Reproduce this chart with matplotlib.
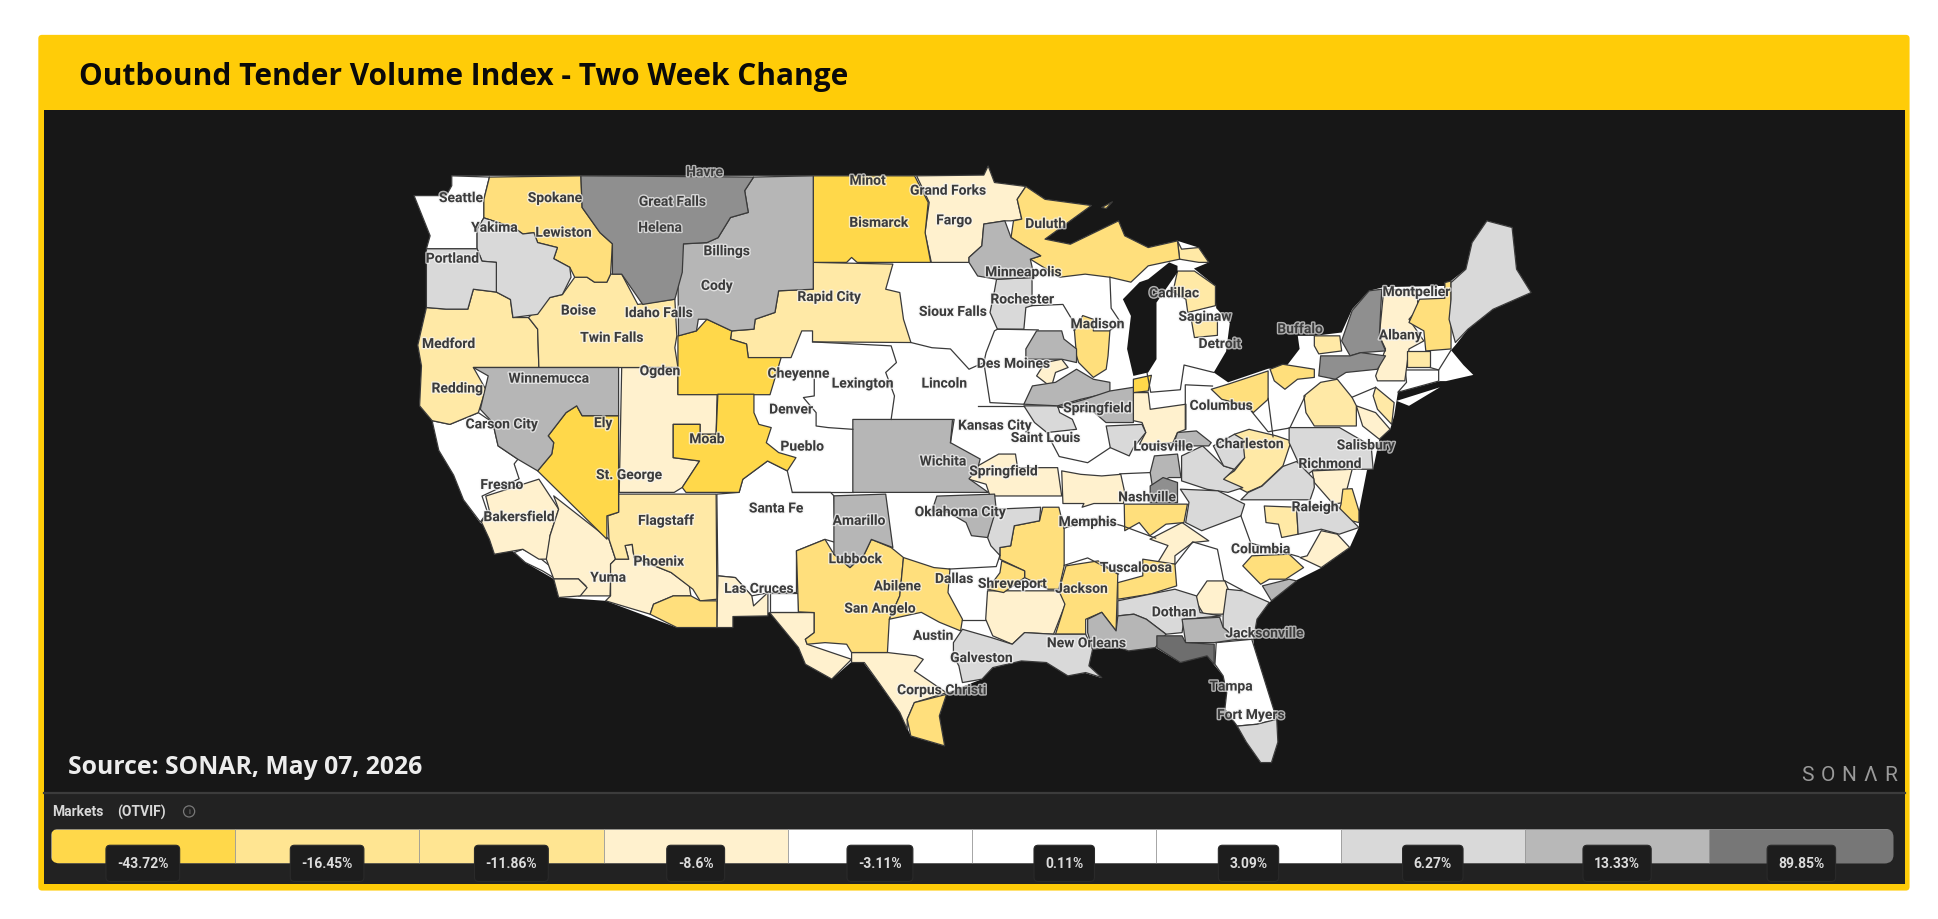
import numpy as np
import matplotlib
matplotlib.use('Agg')
import matplotlib.pyplot as plt
import matplotlib.patheffects as pe
from matplotlib.patches import Polygon, Rectangle, FancyBboxPatch, Circle

# market outlines (map units, 1568 wide)
us_outline = [(335,159),(361,159),(365.5,151),(365.5,143),(658,143),(740,143),(796,142.4),(799.5,135),(804.6,148.4),(830,151.6),(845.5,162),(883,167),(845.5,194.2),(866,198.3),(905,179.4),(910,191.5),(929,201),(952.7,195.6),(969.8,201),(978,213),(966,218),(983.4,232),(984,250),(995,262),(992,285),(982,302),(993.6,310),(1026,299),(1040,298),(1051.5,283),(1050,272.4),(1063.4,272.4),(1085.5,269.7),(1094,250.9),(1107.7,236),(1119.6,233),(1170,232),(1174,228),(1186,218.5),(1191,197),(1203,179.4),(1223.4,184.8),(1227,218.5),(1238.8,237.4),(1208,250.9),(1187.7,267),(1177.5,280),(1174,284),(1184,296),(1192,304),(1170,309),(1165,309),(1131,318),(1128,337),(1124.7,348),(1116,356),(1111,380),(1106,381),(1099.5,414),(1099.5,427),(1092,443.6),(1069,460),(1049,470),(1027,488),(1017,501.6),(1014,518),(1017,542),(1025.7,561),(1033,585),(1033.9,601),(1028.7,617.5),(1020,617.5),(1008.4,601),(1001,588),(991,574),(992.5,561),(989.6,547.4),(982,538),(976.6,531),(955,536.6),(934.7,524.5),(913,527),(905,524.5),(884,526),(881,539),(891,549),(878,545),(864,547),(846.6,536.6),(826,535),(803,541),(794.6,550),(766,561),(760,580),(764,604),(737,596),(728,577),(711,553),(699,537),(689,536),(673,550),(652,538),(646,524.5),(622.7,496),(593,499.4),(593,508.3),(547.6,508.3),(490,486.7),(452,484),(448,469),(425,455.7),(388,423),(375,405),(367,385),(355,365),(349.6,341),(339.5,329),(341,297),(338,280),(345,249.5),(345,202),(348,191.5)]
long_island = [(1130,325),(1165,314),(1140,329)]
lake_michigan = [(929,226.6),(946,213),(952.7,215.8),(952.7,221),(935.7,245.5),(935.7,291.3),(929,302),(917,304.8),(911.9,283),(915,256.3),(908.5,242.8),(922,229)]

# -43.72% band
bismarck = [(658,143),(740,143),(751,164.5),(748.5,189),(753,213),(693.5,213),(689,209),(685,213),(658,213)]
cheyenne_w = [(548.5,272.4),(563.5,268.4),(572,259),(592,268.4),(591,275),(604,279),(605.4,290),(632,290),(623,320),(548.5,320)]
moab = [(580.8,319.6),(610,319.6),(610,334.5),(614,344),(624,346.6),(620,358.8),(630,366.8),(644,370.9),(637,381.6),(621,373.6),(601,388.4),(598,399),(555,399),(552,395),(566,373.6),(544.7,370.9),(544.7,344),(566.4,344),(566.4,352),(579.4,352)]
st_george = [(435,381.6),(446.4,368),(448,358.8),(443.5,353.3),(458,334.5),(466.6,329),(471,337),(500.5,337),(500.5,415),(491,418),(491,436.8)]
gary = [(917,307.5),(931.6,304.3),(929,317),(917,318.3)]

# -16.45% band
spokane = [(396,144),(470,143),(471,168.6),(485.5,189),(495.5,198),(494,222.5),(491,229),(481,229),(475,225),(465,225),(461,217),(448,210),(451,201),(435,197),(432,189),(423,190),(416,185),(391.5,177),(391.5,162)]
tucson = [(528.8,489.4),(544.7,482.7),(559,482.7),(566.4,486.7),(580,486.7),(580,508.3),(547.6,508.3),(526,497.5)]
lubbock = [(644.4,446.3),(667.5,437),(674.7,449),(687.7,459.8),(699.3,449),(705,437),(721,443.6),(731,451.7),(728,482.7),(719.5,501.6),(718,528.5),(689,528.5),(685,521.8),(667.5,520.5),(653,521.8),(651.6,517.8),(658.8,512.4),(658.8,496.2),(646,495.6)]
abilene = [(731,451.7),(755.6,459.8),(768.6,461),(767,480),(778.7,501.6),(777.2,511),(760,504),(745.4,496),(719.5,501.6),(728,482.7)]
brownsville = [(739.8,569),(765.8,562.3),(760,579.8),(764.3,604),(736.9,596),(734,582.5)]
arkansas = [(843.7,411),(856.7,411),(861,428.8),(861,458.4),(856.7,477.3),(848,477.3),(829,467.9),(829,462.5),(809,453),(809,443.6),(817.7,442.2),(820.6,426),(841,422)]
shreveport = [(810.5,454.4),(829,462.5),(829,467.9),(812,480),(799,477.3),(809,464)]
jackson = [(862.5,458.4),(888.5,454.4),(904.4,465.2),(903,511),(891.4,496),(878.4,501.6),(878.4,513.7),(854,513.7),(861.6,489.4),(856.7,478.6)]
nashville_s = [(909.6,408.5),(960.7,408.5),(957.9,423.4),(943.4,424.7),(930.4,434),(921.7,423.4),(910,430)]
tuscaloosa = [(904.4,472),(924.6,466.5),(924.6,453),(950.6,457),(952,474.6),(930.4,481.3),(904.4,485.4)]
duluth = [(830,151.6),(845.5,162),(883,167),(845.5,194.2),(866,198.3),(905,179.4),(910,191.5),(929,201),(952.7,195.6),(954.4,210.4),(929,215.8),(915,229),(898,225),(878,222.5),(857.4,225),(833.6,210.4),(842,207.7),(828.4,199.6),(818,192.9),(820,179.4),(826.7,178),(823,162)]
isle_royale = [(891.4,168.6),(900,164),(895,169.4)]
madison = [(869.3,268.4),(876,256),(884.6,259),(884.6,268.4),(898,268.4),(896.5,288.6),(895,299.4),(884.6,306),(872.7,294),(871,288.6)]
new_hampshire = [(1148.5,242.8),(1169,242),(1169,229.3),(1174,228),(1174,283),(1153.6,284.6),(1152,268.4),(1140,261.6)]
ohio = [(980,315.6),(993.6,311.5),(1026,300.8),(1026,323.7),(1014,334.5),(1009,329),(988.5,323.7)]
ohio_e = [(1027.6,299.4),(1037.9,295.4),(1063.4,299.4),(1063.4,306),(1049.8,307.5),(1039.6,315.6),(1031,308.8)]
nc_coast = [(1086.5,396.4),(1094,396),(1099.5,414),(1099.5,423.4),(1082,419.3),(1085,408.5)]
columbia = [(1005.5,458.4),(1012.8,450.3),(1043,449),(1054.7,459.8),(1040.2,469.2),(1027,469.2),(1020,473.3)]

# -11.86% band
medford = [(345,249.5),(361,250.8),(378.5,250.8),(383,234.7),(401.6,237),(413,243),(415,257.6),(427.6,257.6),(435,267),(436,298),(383,298),(393,315.6),(387,334.5),(364,344),(349.6,341),(339.5,329),(341,296.7),(338,280)]
boise = [(427.6,257.6),(445,241.4),(455,239),(465,225),(475,225),(481,229),(491,229),(494,222.5),(503,222.5),(516,247),(546,242.8),(547.6,272.4),(546,282),(548.5,298),(436,298),(435,267)]
rapid_city = [(658,213),(722.4,214.4),(716.6,234.7),(728,237.4),(731,259),(737,277.8),(657.4,277.3),(657.4,268.4),(648.7,268.4),(640,290),(605.4,290),(604,279),(591,275),(592,268.4),(610,267),(611,259),(627,253.5),(630,236),(658,234.7)]
flagstaff = [(500.5,400.4),(579.4,400.4),(580,485.4),(566.4,486.7),(560.6,477.3),(543,463.8),(513,451.7),(511.5,441),(505.7,442),(508.6,453),(498,453),(492.7,436.8),(491.8,418),(500.5,415)]
cadillac = [(952.7,220),(966.4,220),(983.4,232),(983.4,248),(961,253.5),(959.5,242.8),(949,237)]
saginaw = [(964,260),(985,260),(985,272),(966.4,273.8)]
upper_east = [(952.7,195.6),(956,202.3),(969.8,201),(978,213),(970,213),(954.4,210.4)]
buffalo_e = [(1063.4,272.4),(1084,272.4),(1085.5,284.6),(1067,287),(1063.4,280.5)]
mass_w = [(1138.3,284.6),(1157,284.6),(1157,298),(1138.3,298)]
nj = [(1113,314),(1128,326.4),(1126,344),(1114.5,331.8),(1111,320.9)]
penn = [(1055,321),(1068.5,310),(1082,307.5),(1094,322.3),(1097.4,329),(1097.4,345.3),(1063.4,345.3),(1056.6,334.5)]
wv = [(998.7,352),(1010.6,348),(1032.7,353.3),(1044.7,357.4),(1038,377.6),(1020.8,393.8),(1009,399),(988.5,388.4),(998.7,381.6),(1007,370.9)]
raleigh_w = [(1022.9,410),(1049,411),(1050.3,432.8),(1037,435.5),(1034.4,424.7),(1024.3,423.4)]

# -8.6% band
ogden = [(503,298),(548.5,298),(548.4,319.6),(580.2,319.6),(579.4,352),(566.4,352),(566.4,344),(544.7,344),(544.7,370.9),(566,373.6),(552,395),(545.5,399),(501,399)]
fargo = [(741.6,143),(796,142.4),(799.5,135),(804.6,148.4),(830,151.6),(823,162),(826.7,178),(818,179.4),(813,179.4),(796,182),(794.4,199.6),(784,209),(784,213),(753.5,213),(748.4,189),(751.8,164.5)]
bakersfield = [(436,388.3),(452,412.6),(445,434),(443.5,453),(436,453),(423,445),(400,449),(396,437),(389.5,423),(396,414),(393,402)]
yuma = [(448,401.8),(492.7,436.8),(498,453),(494,457),(494,470),(493.6,482.7),(468,482.7),(474,474.6),(468,469),(448,469),(442,453),(445,434),(452,412.6)]
socal = [(448,469),(468,469),(475,476),(469.5,482.7),(452,484)]
phoenix = [(494,457),(498,453),(508.6,453),(505.7,442),(511.5,441),(513,451.7),(543,463.8),(557.7,474.6),(559,482.7),(544.7,482.7),(528.8,489.4),(526,497.5),(490,486.7),(494,482.7)]
las_cruces = [(580.8,466.5),(595,467.9),(608.3,482.7),(609.7,490.8),(621.3,480),(621.3,498.9),(593,499.4),(593,508.3),(580,508.3)]
west_tx = [(622.7,496.2),(658.8,496.2),(658.8,512.4),(651.6,517.8),(653,521.8),(689,534),(673,550),(651.6,538),(646,524.5)]
corpus = [(689,528.5),(718,528.5),(741,531.2),(747,534),(739.8,543.4),(765.8,561),(739.8,569),(734,582.5),(734,590.6),(728,577),(711,552.8),(699.3,536.6),(689,536.6)]
houston_n = [(799,478.6),(856.7,478.6),(862.5,488),(852.4,513.7),(829,512.4),(819,521.8),(803.2,515),(797.5,501.6)]
alabama_n = [(930.4,436.8),(956.4,423.4),(978,438.2),(965,439.5),(950.6,450.3),(950.6,457),(936,457),(945,442)]
georgia_s = [(976.6,470.6),(991,470.6),(995.4,481.3),(989.6,497.5),(973.8,497.5),(966.5,485.4)]
albany = [(1119.6,234.7),(1147,236),(1147,250.9),(1140,259),(1152,276.5),(1140,283),(1136.6,308.8),(1114.5,308.8),(1113,304.8),(1121,283),(1116,272.4)]
philly = [(1097.4,329),(1113,334.5),(1124.7,348),(1116,356),(1102.5,345.3)]
indiana = [(917,318.3),(929,318.3),(930.6,331.8),(959.5,327.7),(959.5,348),(952.7,350.6),(949,358.8),(935.7,360),(922,360),(927,350.6),(924,342.5),(917,341)]
des_moines = [(845.5,294),(859,291.3),(864.2,298),(854,302),(850.6,314),(838.7,304.8)]
springfield_mo = [(784,381.6),(808,368),(821.6,368),(823.3,379),(855.7,379),(859,401.9),(801,401.9),(797.8,392.4),(784,388.4)]
memphis_n = [(859,381.6),(874.4,384.4),(891.4,385.7),(906.8,384.4),(910,399),(909,408),(885,408),(875.5,411),(877,408),(860,408)]
richmond_s = [(1061.7,381.6),(1094,380.3),(1087,407.3),(1078.7,408.5),(1063.4,391)]
wilmington = [(1051.8,451.7),(1057.6,450.3),(1069,430),(1082,432.8),(1092,443.6),(1069,459.8)]

# white markets
seattle = [(365.5,143),(396,144),(391.5,162),(391.5,177),(386,186),(386,202),(345,202),(348,191.5),(335,159),(361,159),(365.5,151)]
california = [(349.6,341),(364,344),(387,334.5),(398.7,342.5),(403,361.4),(419,372.2),(416,376),(420,388),(390,402),(394.4,415),(388.6,423),(375,405),(367,385),(355,365)]
la_coast = [(416,447.6),(423,445),(438,453),(448,461),(448,468),(439,462.5),(425,455.7)]
santa_fe = [(580,400.4),(598,399),(601,388.4),(621,373.6),(637,381.6),(641,399),(672,399),(674.7,401.8),(676,439.5),(667.5,437),(644.4,446.3),(644.4,480),(622.7,480),(608,482.7),(595,467.9),(580.8,466.5)]
big_bend = [(622.7,480),(646,480),(646,495.6),(622.7,495.6)]
florida = [(984,520.5),(1012.8,517.8),(1033,582.5),(1017,586.5),(1001,588),(991,574.4),(992.5,561),(989.6,547.4),(983,538)]
connecticut = [(1137,300),(1164,300),(1164,309),(1131,318),(1138,310)]

# 6.27% band
yakima = [(386,186),(391.5,177),(416,185),(423,190),(432,189),(435,197),(451,201),(448,210),(461,217),(462,225),(455,239),(445,241.4),(435,255),(415,257.6),(413,243),(401.6,237),(401.6,213),(390,212),(386,202)]
portland = [(345,202),(386,202),(390,212),(401.6,213),(401.6,237),(383,234.7),(378.5,250.8),(361,250.8),(345,249.5)]
rochester = [(806.3,226.6),(835,225.2),(835,248),(830,249.5),(828.4,267),(807,267),(801,253.5),(804.6,236)]
maine = [(1174,229.3),(1186,218.5),(1191,197),(1203,179.4),(1223.4,184.8),(1227,218.5),(1238.8,237.4),(1208,250.9),(1187.7,267),(1177.5,277.8),(1172.4,259),(1174,242.8)]
ark_w = [(805,412.6),(842,411),(841,422),(820.6,426),(817.7,442.2),(809,443.6),(809,450),(801.7,442.2),(799,435.5)]
dothan = [(904.4,486.7),(930.4,481.3),(950.6,477.3),(968,482.7),(971,496.2),(988,498.9),(958,501.6),(956.4,512.4),(943.4,513.7),(927.5,501.6),(917.4,497.5),(904.4,498.9)]
ne_florida = [(992.5,477.3),(1005.5,478.6),(1027,488),(1017,501.6),(1014.2,517.8),(1001,517.8),(989.6,508.3),(989.6,498.9)]
south_florida = [(1001,588),(1017,586.5),(1033,582.5),(1033.9,601),(1028.7,617.5),(1020,617.5),(1008.4,601)]
galveston = [(771.4,520.5),(778.7,509.7),(802,516.4),(819,521.8),(829,512.4),(852.4,513.7),(878.4,513.7),(884,525.8),(881,539.3),(891.4,548.8),(878.4,544.7),(864,547.4),(846.6,536.6),(826.4,535.3),(803.2,540.7),(794.6,550),(778.7,552.8),(775.8,539.3),(771.4,531.2)]
kansas_city = [(828.4,329),(855.7,329),(857.4,334.5),(867.6,339.9),(871,348),(847,350.6),(837,342.5)]
kentucky_w = [(895,345.3),(924,344),(927,350.6),(917,362.8),(913.6,369.5),(898.3,362.8)]
kentucky_e = [(956,369.5),(973,361.4),(990,377.6),(998.7,380.3),(990,388.4),(1005.5,395.2),(993.6,399),(976.6,396.5),(956,389.7)]
charleston = [(981.7,361.4),(998.7,352),(1005.5,356),(1007,370.9),(998.7,380.3),(990,377.6)]
virginia = [(1043,346.6),(1083.8,346.6),(1109.4,361.4),(1111,380.3),(1094,380.3),(1063.4,380.3),(1056.6,385.7),(1049.8,373.6),(1043,358.8)]
virginia_s = [(1049,374),(1063,388),(1063.4,395),(1060,405),(1004,405),(1010,399),(1021,394),(1038,378)]
piedmont = [(962,407),(955,396.4),(985.3,397.7),(1007,408.5),(1004,418),(972.3,430),(959.3,423.4)]
raleigh_e = [(1049,411),(1082,410),(1099.5,427.4),(1083.6,432.8),(1069,428.8),(1050.3,432.8)]

# 13.33% band
billings = [(609.7,144),(658,143),(658,234.7),(630,236),(627,253.5),(611,259),(610,267),(592,268.4),(572,259),(565,259),(563.5,268.4),(549,272.4),(548.5,221),(553,198),(572,197),(581,193),(591,176.7),(605.4,172.6),(602.5,155)]
winnemucca = [(383,298),(500.5,298),(500.5,337),(471,337),(466.6,329),(458,334.5),(443.5,353.3),(448,358.8),(446.4,368),(435,381.6),(419,372.2),(403,361.4),(398.7,342.5),(388.6,331.8),(395,304.8)]
amarillo = [(674.7,401.8),(716.6,400.4),(722.4,443.6),(705,437),(699.3,449),(687.7,459.8),(674.7,449)]
wichita = [(690,340),(772,340),(769,358.8),(793,372),(791,380),(784,388),(799.6,399),(690,399)]
oklahoma_city = [(758,402),(804.7,400.4),(806,412.6),(799,435.5),(786,434),(781.6,423.4),(767,415),(754,414)]
new_orleans_e = [(880,501.6),(891.4,496),(903,511),(904.4,498.9),(917.4,497.5),(927.5,501.6),(943.4,513.7),(934.7,524.5),(913,527.2),(905.8,524.5),(884,525.8),(880,512.4)]
jax_w = [(956.4,501.6),(986.8,500),(989.6,508.3),(1001,517.8),(982.4,520.5),(959.3,520.5)]
minneapolis = [(796,182),(813,179.4),(818,192.9),(828.4,199.6),(842,207.7),(833.6,210.4),(837,225.2),(806.3,226.6),(791,224),(784,213),(784,209),(794.4,199.6)]
iowa_e = [(838.7,268.4),(859,268.4),(860.8,275),(871,283),(871,294),(859,291.3),(830,291.3),(830,283)]
missouri_n = [(835.3,312.9),(854,310),(871,299.4),(884.6,307.5),(898,310),(898,318.3),(874.4,323.7),(855.7,329),(828.4,327.7)]
springfield_il = [(877.8,323.7),(898,317),(917,314),(917,342.5),(894.8,342.5),(885,334),(855.7,330)]
louisville_e = [(952.7,350.6),(968,349.3),(980,358.8),(978,361.4),(949,361.4)]
nashville_n = [(934,369.5),(952.7,368),(955.5,387),(946,387),(932.3,393.8),(930.6,383)]
savannah = [(1021.4,474.6),(1043,469.2),(1049,470.6),(1028.7,486.7)]

# 89.85% band, two shades
great_falls = [(470,143),(609.7,144),(602.5,155),(605.4,172.6),(591,176.7),(581,193),(572,197),(553,198),(552,221),(546,242.8),(520,247),(503,222.5),(495.5,222.5),(495.5,198),(485.5,189),(471,168.6)]
adirondack = [(1107.7,236),(1118,234.7),(1116,272.4),(1121,284.6),(1101,286),(1092.4,288.6),(1085.5,276.5),(1094,252)]
syracuse = [(1068.5,288.6),(1092.4,288.6),(1101,286),(1121,288.6),(1114.5,299.4),(1089,302),(1080.4,307.5),(1067,304.8)]
nashville_dk = [(930.6,393.8),(941,387),(952.7,391),(952.7,407.3),(930.6,407.3)]
tallahassee = [(936,515),(956.4,515),(959.3,520.5),(982.4,521.8),(982.4,538),(976.6,531.2),(955,536.6),(936,524.5)]

band_43 = [bismarck, cheyenne_w, moab, st_george, gary]
band_16 = [spokane, tucson, lubbock, abilene, brownsville, arkansas, shreveport, jackson, nashville_s, tuscaloosa, duluth, isle_royale, madison, new_hampshire, ohio, ohio_e, nc_coast, columbia]
band_11 = [medford, boise, rapid_city, flagstaff, cadillac, saginaw, upper_east, buffalo_e, mass_w, nj, penn, wv, raleigh_w]
band_8 = [ogden, fargo, bakersfield, yuma, socal, phoenix, las_cruces, west_tx, corpus, houston_n, alabama_n, georgia_s, albany, philly, indiana, des_moines, springfield_mo, memphis_n, richmond_s, wilmington]
band_white = [seattle, california, la_coast, santa_fe, big_bend, florida, connecticut]
band_6 = [yakima, portland, rochester, maine, ark_w, dothan, ne_florida, south_florida, galveston, kansas_city, kentucky_w, kentucky_e, charleston, virginia, virginia_s, piedmont, raleigh_e]
band_13 = [billings, winnemucca, amarillo, wichita, oklahoma_city, new_orleans_e, jax_w, minneapolis, iowa_e, missouri_n, springfield_il, louisville_e, nashville_n, savannah]
band_89 = [great_falls, adirondack, syracuse, nashville_dk]
band_max = [tallahassee]

# borders between white markets
white_borders = [
    [(658.8,307.5),(658.8,321),(650,322.3),(660.3,334.5),(660.3,345.3),(670,346.6),(690,348)],
    [(657.4,277.3),(721,280.5),(725.3,294),(716.6,302),(723.7,321),(721,340)],
    [(737,277.8),(754,282),(769,283),(784,299.4),(796,294),(797.8,286),(804.6,268.4),(807,267),(840,267.6)],
    [(796,294),(801,326.4),(828.4,327.7)],
    [(791,329),(828.4,329)],
    [(770.6,341),(769,358.8)],
    [(641,399),(690,399)],
    [(768,461),(806,459),(809,450)],
    [(778,502),(797,502)],
    [(861,428),(885,420),(908,426),(935,436)],
    [(861,458),(880,452),(905,465)],
    [(951,457),(965,439),(985,445),(990,470),(1005,478)],
    [(1004,418),(1012,440),(1051,451)],
    [(847,351),(857,370),(880,375),(898,363)],
    [(906,384),(930,383)],
    [(959,348),(959,312),(981,313)],
    [(1009,329),(1026,350),(1043,347)],
    [(1056,321),(1044,346)],
    [(1094,322),(1113,314)],
    [(928,302),(931,318),(955,316),(958,296),(982,302)],
    [(835,248),(860,247),(869,262),(869,268)],
    [(898,225),(899,250),(907,262),(898,268)],
    [(1157,298),(1164,300),(1174,284)],
    [(1030,354),(1026,323)],
]

market_names = ['Havre','Seattle','Spokane','Great Falls','Minot','Grand Forks','Fargo','Yakima','Lewiston','Helena','Bismarck','Duluth','Billings','Portland','Minneapolis','Cody','Rapid City','Rochester','Cadillac','Sioux Falls','Montpelier','Boise','Idaho Falls','Saginaw','Twin Falls','Madison','Buffalo','Albany','Medford','Detroit','Ogden','Cheyenne','Des Moines','Lexington','Lincoln','Winnemucca','Redding','Denver','Columbus','Springfield','Carson City','Ely','Kansas City','Louisville','Charleston','Salisbury','Saint Louis','Moab','Pueblo','Richmond','Wichita','Springfield','St. George','Fresno','Nashville','Raleigh','Santa Fe','Bakersfield','Oklahoma City','Flagstaff','Amarillo','Memphis','Columbia','Lubbock','Phoenix','Tuscaloosa','Abilene','Dallas','Shreveport','Jackson','Yuma','Las Cruces','San Angelo','Dothan','Austin','Jacksonville','New Orleans','Galveston','Corpus Christi','Tampa','Fort Myers']
name_x = [570,373,449,544,702,767,772,400,456,534,711,846,588,366,828,580,671,827,950,771,1146,468,533,975,495,888,1052,1133,363,987,534,646,820,698,764,444,370,640,988,888,406,488,805,941,1011,1105,846,572,649,1076,763,812,509,406,928,1064,628,420,777,539,695,880,1020,692,533,919,726,772,819,875,492,614,712,950,755,1023,879,794,762,996,1012]
name_y = [140,161,161,164,147,155,179,185,189,185,181,182,204,210,221,232,241,243,238,253,237,252,254,257,274,263,267,272,279,279,301,303,295,311,311,307,315,332,329,331,344,343,345,362,360,361,355,356,362,376,374,382,385,393,403,411,412,419,415,422,422,423,445,453,455,460,475,469,473,477,468,477,493,496,515,513,521,533,559,556,579]

legend_labels = ['-43.72%','-16.45%','-11.86%','-8.6%','-3.11%','0.11%','3.09%','6.27%','13.33%','89.85%']
legend_colors = ['#FFD84A','#FFE592','#FFE592','#FFF1CE','#FFFFFF','#FFFFFF','#FFFFFF','#D9D9D9','#B8B8B8','#777777']
logo_letters = ['S','O','N','Λ','R']

plt.rcParams['font.family'] = ['Roboto', 'DejaVu Sans']

fig = plt.figure(figsize=(19.38, 9.2), dpi=100, facecolor='white')
ax = fig.add_axes([0, 0, 1, 1])
ax.set_xlim(0, 1568)
ax.set_ylim(744, 0)
ax.axis('off')

# frame and panels
ax.add_patch(FancyBboxPatch((33, 31), 1510, 688, boxstyle='round,pad=2,rounding_size=3', fc='#FFCC08', ec='none'))
ax.add_patch(Rectangle((36, 90), 1505, 552, fc='#171717', ec='none'))
ax.add_patch(Rectangle((36, 642), 1505, 74, fc='#222222', ec='none'))
ax.plot([36, 1541], [642, 642], color='#3c3c3c', lw=1.6)

ax.text(64, 62, 'Outbound Tender Volume Index - Two Week Change', fontsize=21.5, fontweight='bold',
        family=['Open Sans', 'DejaVu Sans'], color='#0a0a0a', va='center')
ax.text(55, 621, 'Source: SONAR, May 07, 2026', fontsize=17.8, fontweight='bold',
        family=['Open Sans', 'DejaVu Sans'], color='#EDEDED', va='center')
for letter, x in zip(logo_letters, np.linspace(1462, 1530, len(logo_letters))):
    ax.text(x, 627, letter, fontsize=15, color='#9a9a9a', ha='center', va='center')

EDGE = '#3a3a3a'
ax.add_patch(Polygon(us_outline, closed=True, fc='white', ec='none', zorder=2))
ax.add_patch(Polygon(long_island, closed=True, fc='white', ec='none', zorder=2))
ax.add_patch(Polygon(lake_michigan, closed=True, fc='#171717', ec='none', zorder=4))

bands = [(band_white, '#FFFFFF'), (band_8, '#FFF1CE'), (band_11, '#FFE9A6'), (band_16, '#FFDF7C'),
         (band_43, '#FFD84A'), (band_6, '#D9D9D9'), (band_13, '#B6B6B6'), (band_89, '#8F8F8F'), (band_max, '#6E6E6E')]
for group, colour in bands:
    for outline in group:
        ax.add_patch(Polygon(outline, closed=True, fc=colour, ec=EDGE, lw=0.9, joinstyle='round', zorder=3))
for line in white_borders:
    xs, ys = zip(*line)
    ax.plot(xs, ys, color=EDGE, lw=0.9, zorder=3)

halo = [pe.withStroke(linewidth=2.0, foreground='#f4f4f4', alpha=0.7)]
for name, x, y in zip(market_names, name_x, name_y):
    ax.text(x, y, name, fontsize=10, fontweight='bold', color='#3b3b3b', ha='center', va='center',
            path_effects=halo, zorder=5)

# legend
ax.text(42, 657, 'Markets', fontsize=10, fontweight='bold', color='#d8d8d8', va='center')
ax.text(95, 657, '(OTVIF)', fontsize=10, fontweight='bold', color='#d8d8d8', va='center')
ax.add_patch(Circle((153, 657), 4.5, fc='none', ec='#777777', lw=0.9))
ax.text(153, 657, 'i', fontsize=5.5, color='#888888', ha='center', va='center')

edges = np.linspace(41, 1532, len(legend_labels) + 1)
clip = FancyBboxPatch((41, 671), 1491, 28, boxstyle='round,pad=0,rounding_size=7', fc='none', ec='none')
ax.add_patch(clip)
for i, (label, colour) in enumerate(zip(legend_labels, legend_colors)):
    seg = Rectangle((edges[i], 671), edges[i + 1] - edges[i], 28, fc=colour, ec='#999999', lw=0.5, zorder=3)
    ax.add_patch(seg)
    seg.set_clip_path(clip)
    ax.text((edges[i] + edges[i + 1]) / 2, 699, label, fontsize=10, fontweight='bold', color='#dcdcdc',
            ha='center', va='center', zorder=5,
            bbox=dict(boxstyle='round,pad=0.8,rounding_size=0.3', fc='#1d1d1d', ec='#2a2a2a', lw=0.8))

fig.savefig('out.png', dpi=100, facecolor='white')
